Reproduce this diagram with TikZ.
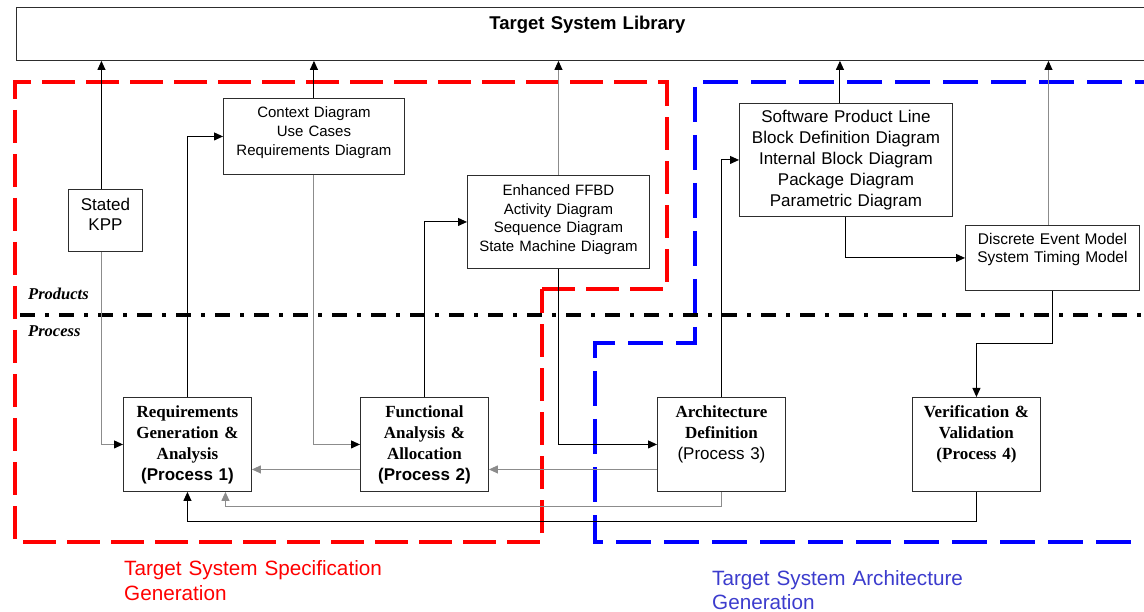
\documentclass[tikz,border=0pt]{standalone}
\usepackage{fontspec}
\setmainfont{Liberation Serif}
\setsansfont{Liberation Sans}
\usetikzlibrary{arrows.meta}
\definecolor{linegray}{RGB}{140,140,140}
\definecolor{boxline}{RGB}{45,45,45}
\definecolor{specred}{RGB}{255,0,0}
\definecolor{archblue}{RGB}{0,0,255}
\definecolor{labelblue}{RGB}{60,60,205}

\begin{document}
\begin{tikzpicture}[x=1pt, y=-1pt,
  box/.style n args={3}{draw=boxline, line width=0.9pt, fill=white, anchor=north west,
    inner sep=0pt, align=center, text width=#1, text height=#2, text depth=#3},
  proc/.style={box={128pt}{20.5pt}{73.5pt}, font=\fontsize{17}{21}\selectfont\bfseries},
  link/.style={line width=0.95pt, -{Triangle[length=9pt,width=8pt]}},
  glink/.style={line width=0.95pt, draw=linegray, -{Triangle[length=9pt,width=8pt,color=black]}},
  fback/.style={line width=0.95pt, draw=linegray, -{Triangle[length=9pt,width=8pt]}},
  zone/.style={line width=4.5pt, line join=miter}]

  \useasboundingbox (0,0) rectangle (1144,612);

  \draw[zone, specred, dash pattern=on 33pt off 11pt]
    (542,289) -- (667,289) -- (667,82) -- (15,82) -- (15,542) -- (542,542) -- cycle;
  \draw[zone, archblue, line width=4pt, dash pattern=on 35pt off 13pt]
    (1170,82) -- (695,82) -- (695,343) -- (595,343) -- (595,542) -- (1170,542);
  \draw[line width=3.3pt, dash pattern=on 15pt off 10pt on 4pt off 10pt] (20,315) -- (1170,315);

  \node[anchor=base west, inner sep=0pt, font=\fontsize{16.5}{20}\selectfont\bfseries\itshape] (prodlbl) at (28,299.5) {Products};
  \node[anchor=base west, inner sep=0pt, font=\fontsize{16.5}{20}\selectfont\bfseries\itshape] (proclbl) at (28,336.5) {Process};

  \node[box={1142pt}{22.5pt}{30.5pt}, font=\sffamily\bfseries\fontsize{18.5}{22}\selectfont] (lib) at (16,7) {Target System Library};

  \node[box={74pt}{21pt}{41pt}, font=\sffamily\fontsize{17}{20}\selectfont] (kpp) at (68,189) {Stated\\KPP};
  \node[box={181pt}{19.5pt}{56.5pt}, font=\sffamily\fontsize{15}{19}\selectfont] (ctx) at (223,98)
    {Context Diagram\\Use Cases\\Requirements Diagram};
  \node[box={182pt}{20.5pt}{72.5pt}, font=\sffamily\fontsize{15}{18.5}\selectfont] (ffbd) at (467,175)
    {Enhanced FFBD\\Activity Diagram\\Sequence Diagram\\State Machine Diagram};
  \node[box={213pt}{19pt}{94pt}, font=\sffamily\fontsize{17}{21}\selectfont] (spl) at (739,103)
    {Software Product Line\\Block Definition Diagram\\Internal Block Diagram\\Package Diagram\\Parametric Diagram};
  \node[box={174pt}{19.5pt}{45.5pt}, font=\sffamily\fontsize{15.5}{18}\selectfont] (dem) at (965,225)
    {Discrete Event Model\\System Timing Model};

  \node[proc] (req) at (123,397) {Requirements\\Generation \&\\Analysis\\{\sffamily(Process 1)}};
  \node[proc] (func) at (360,397) {Functional\\Analysis \&\\Allocation\\{\sffamily(Process 2)}};
  \node[proc] (arch) at (657,397) {Architecture\\Definition\\{\sffamily\mdseries(Process 3)}};
  \node[proc] (vv) at (912,397) {Verification \&\\Validation\\(Process 4)};

  \coordinate (kpptop) at ([xshift=-4pt]kpp.north);
  \coordinate (kppbot) at ([xshift=-4pt]kpp.south);
  \coordinate (spltop) at ([xshift=-6pt]spl.north);
  \coordinate (demtop) at ([xshift=-4pt]dem.north);

  \draw[link] (kpptop) -- (kpptop |- lib.south);
  \draw[link] (ctx.north) -- (ctx.north |- lib.south);
  \draw[glink] (ffbd.north) -- (ffbd.north |- lib.south);
  \draw[link] (spltop) -- (spltop |- lib.south);
  \draw[glink] (demtop) -- (demtop |- lib.south);

  \draw[glink] (kppbot) |- (req.west);
  \draw[link] (req.north) |- (ctx.west);
  \draw[glink] (ctx.south) |- (func.west);
  \draw[link] (func.north) |- (ffbd.west);
  \draw[link] (ffbd.south) |- (arch.west);
  \draw[link] (arch.north) |- (spl.west);
  \draw[link] (spl.south) |- (dem.west);
  \draw[link] (dem.south) -- ++(0,53) -| (vv.north);

  \draw[fback] ([yshift=-25pt]func.west) -- ([yshift=-25pt]req.east);
  \draw[fback] ([yshift=-25pt]arch.west) -- ([yshift=-25pt]func.east);
  \draw[fback] (arch.south) -- ++(0,15) -| ([xshift=38pt]req.south);
  \draw[link] (vv.south) -- ++(0,30) -| (req.south);

  \node[anchor=base west, inner sep=0pt, text width=300pt, align=left, text=specred,
    font=\sffamily\fontsize{20.7}{25}\selectfont] (speclbl) at (124,575) {Target System Specification\\Generation};
  \node[anchor=base west, inner sep=0pt, text width=300pt, align=left, text=labelblue,
    font=\sffamily\fontsize{20.7}{24}\selectfont] (archlbl) at (712,585) {Target System Architecture\\Generation};
\end{tikzpicture}
\end{document}
